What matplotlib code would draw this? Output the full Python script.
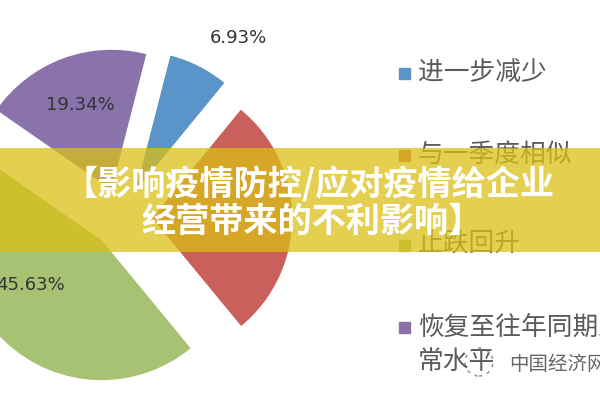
import matplotlib
matplotlib.use("Agg")
import matplotlib.pyplot as plt
from matplotlib.patches import Rectangle, Ellipse

plt.rcParams['font.family'] = ['Noto Sans CJK SC', 'DejaVu Sans']

# data
labels = ["进一步减少", "与一季度相似", "止跌回升", "恢复至往年同期正\n常水平"]
values = [6.93, 28.10, 45.63, 19.34]
colors = ["#5b94c9", "#c9605c", "#a8c274", "#8a72ab"]
title_lines = ["【影响疫情防控/应对疫情给企业", "经营带来的不利影响】"]
watermark = "中国经济网"

W, H = 600, 400
fig = plt.figure(figsize=(6, 4), dpi=100)
ax = fig.add_axes([0, 0, 1, 1])

# pie centre at (122, 218) px, radius 140 px
R = 140.0
cx, cy = 122.0, 218.0
wedges, _ = ax.pie(values, colors=colors, startangle=75.6, counterclock=False,
                   explode=[0.215] * len(values), radius=1,
                   wedgeprops=dict(linewidth=0))
ax.set_xlim(-cx / R, (W - cx) / R)
ax.set_ylim(-(H - cy) / R, cy / R)
ax.set_aspect("equal")
ax.axis("off")

# percentage labels (the red one is hidden under the banner)
def px(x, y):
    return (x - cx) / R, (cy - y) / R

label_px = {0: (238, 38), 3: (80, 105), 2: (30, 285)}
for i, (x, y) in label_px.items():
    ax.text(*px(x, y), f"{values[i]:.2f}%", fontsize=13, color="#333333",
            ha="center", va="center", family="DejaVu Sans")

# legend, drawn by hand
leg_y = [73, 155, 245, 345]
for lab, col, y in zip(labels, colors, leg_y):
    yy = y if "\n" not in lab else 327
    fig.patches.append(Rectangle((399 / W, 1 - (yy + 6) / H), 11 / W, 11 / H,
                                 transform=fig.transFigure, color=col, zorder=2))
    fig.text(418 / W, 1 - y / H, lab, fontsize=18.5, color="#5a5a5a",
             ha="left", va="center", linespacing=1.4, zorder=3)

# watermark
fig.patches.append(Ellipse((479 / W, 1 - 362 / H), 28 / W, 28 / H,
                           transform=fig.transFigure, fill=False,
                           edgecolor="#9a9a9a", linestyle=(0, (2, 3)),
                           linewidth=1.2, zorder=2))
fig.text(509 / W, 1 - 364 / H, watermark, fontsize=14, color="#666666",
         ha="left", va="center", zorder=3)

# yellow banner with title
fig.patches.append(Rectangle((0, 1 - 252 / H), 1, 104 / H,
                             transform=fig.transFigure, color="#dbc016",
                             alpha=0.75, linewidth=0, zorder=5))
fig.text(63 / W, 1 - 184 / H, title_lines[0], fontsize=24.6, fontweight="heavy",
         color="white", ha="left", va="center", zorder=6)
fig.text(141 / W, 1 - 221 / H, title_lines[1], fontsize=24.6, fontweight="heavy",
         color="white", ha="left", va="center", zorder=6)

fig.savefig("out.png", dpi=100)
